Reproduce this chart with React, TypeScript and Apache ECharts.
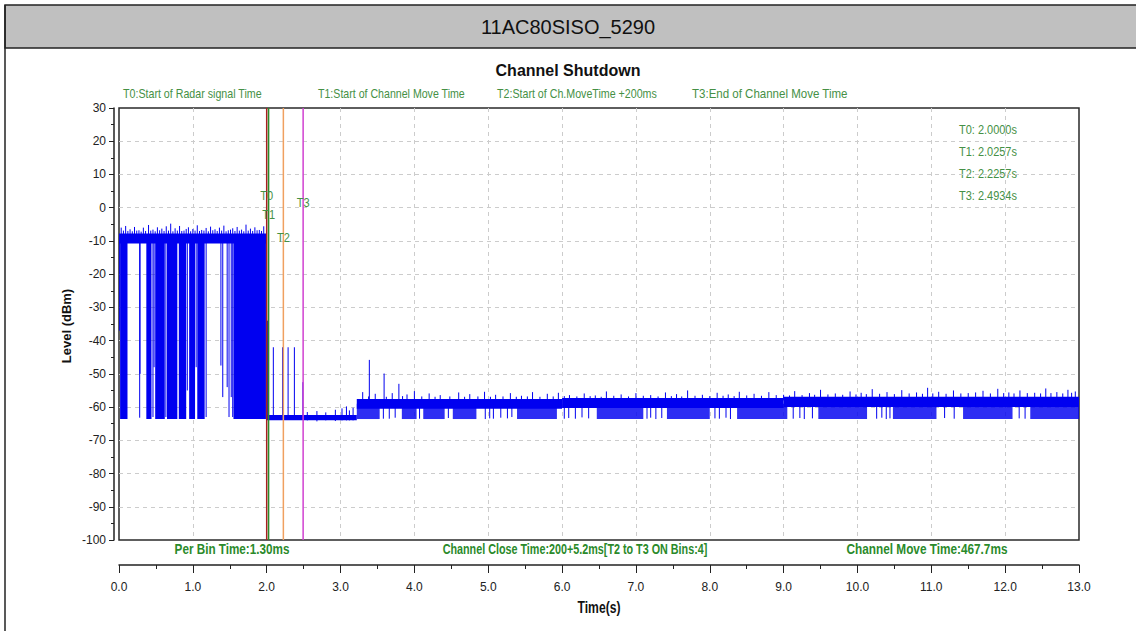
import React, { useEffect, useRef } from "react";
import * as echarts from "echarts";

// ---------- data ----------
const chartTitle = "11AC80SISO_5290";
const plotTitle = "Channel Shutdown";
const xAxisTitle = "Time(s)";
const yAxisTitle = "Level (dBm)";
const legendTexts = [
  "T0:Start of Radar signal Time",
  "T1:Start of Channel Move Time",
  "T2:Start of Ch.MoveTime +200ms",
  "T3:End of Channel Move Time",
];
const markerNames = ["T0", "T1", "T2", "T3"];
const markerTimes = [2.0, 2.0257, 2.2257, 2.4934];
const markerLabelLevels = [3.5, -2.2, -9.1, 1.4];
const markerReadouts = ["T0: 2.0000s", "T1: 2.0257s", "T2: 2.2257s", "T3: 2.4934s"];
const footerTexts = [
  "Per Bin Time:1.30ms",
  "Channel Close Time:200+5.2ms[T2 to T3 ON Bins:4]",
  "Channel Move Time:467.7ms",
];

// [tStart, tEnd, low, high] — continuous trace bands
const coreBands = [
  [0.0, 1.995, -10.8, -7.8],
  [2.0, 3.22, -64.0, -62.4],
  [3.22, 6.0, -60.5, -57.6],
  [6.0, 9.0, -60.3, -57.3],
  [9.0, 13.0, -60.0, -56.9],
];

// [tStart, tEnd, low, high] — radar-period dropouts (solid)
const radarDropouts = [
  [0.015, 0.115, -63.6, -9],
  [0.37, 0.44, -63.6, -9],
  [0.49, 0.62, -63.6, -9],
  [0.65, 0.79, -63.6, -9],
  [0.81, 0.91, -63.6, -9],
  [0.95, 1.03, -63.6, -9],
  [1.06, 1.16, -63.6, -9],
  [1.55, 1.99, -63.6, -9],
];

// [tStart, tEnd, low, high] — dense noise dropouts after channel move
const noiseDropouts = [
  [3.22, 3.53, -63.6, -59],
  [3.83, 4.03, -63.6, -59],
  [4.12, 4.41, -63.6, -59],
  [4.52, 4.84, -63.6, -59],
  [5.39, 5.93, -63.6, -59],
  [6.47, 7.1, -63.6, -59],
  [7.42, 8.0, -63.6, -59],
  [8.37, 9.05, -63.6, -59],
  [9.47, 10.13, -63.6, -59],
  [10.48, 11.07, -63.6, -59],
  [11.43, 12.1, -63.6, -59],
  [12.34, 13.0, -63.6, -59],
];

// [t, low, high] — single-bin excursions
const spikes = [
  // radar period drops
  [0.005, -37, -9], [0.28, -63.2, -9], [0.285, -50, -9], [0.46, -63, -9], [0.475, -48, -9],
  [0.635, -63, -9], [0.925, -55, -9], [1.045, -48, -9], [1.18, -63, -9], [1.38, -47.5, -9],
  [1.405, -57, -9], [1.465, -54, -9], [1.49, -63, -9], [1.52, -57, -9], [1.54, -63, -9],
  // radar period top jitter
  [0.03, -9, -6.0], [0.06, -9, -6.9], [0.09, -9, -5.5], [0.12, -9, -7.0], [0.15, -9, -6.5],
  [0.18, -9, -7.1], [0.21, -9, -5.8], [0.24, -9, -6.9], [0.27, -9, -6.8], [0.3, -9, -7.2],
  [0.33, -9, -6.0], [0.36, -9, -7.0], [0.4, -9, -5.2], [0.43, -9, -6.9], [0.46, -9, -6.6],
  [0.49, -9, -7.1], [0.52, -9, -5.9], [0.55, -9, -6.8], [0.58, -9, -6.3], [0.61, -9, -7.0],
  [0.64, -9, -5.6], [0.67, -9, -6.9], [0.7, -9, -4.8], [0.73, -9, -7.1], [0.76, -9, -6.2],
  [0.79, -9, -6.9], [0.82, -9, -5.5], [0.85, -9, -7.0], [0.88, -9, -6.9], [0.91, -9, -6.4],
  [0.94, -9, -5.9], [0.97, -9, -7.1], [1.0, -9, -6.4], [1.03, -9, -6.9], [1.06, -9, -5.3],
  [1.09, -9, -7.0], [1.12, -9, -6.7], [1.15, -9, -6.9], [1.18, -9, -6.1], [1.21, -9, -7.1],
  [1.24, -9, -5.7], [1.27, -9, -6.8], [1.3, -9, -6.5], [1.33, -9, -7.0], [1.36, -9, -6.0],
  [1.39, -9, -6.9], [1.42, -9, -5.4], [1.45, -9, -7.1], [1.48, -9, -6.8], [1.51, -9, -6.6],
  [1.54, -9, -6.2], [1.57, -9, -7.0], [1.6, -9, -5.8], [1.63, -9, -6.9], [1.66, -9, -6.6],
  [1.69, -9, -7.1], [1.72, -9, -5.1], [1.75, -9, -6.9], [1.78, -9, -6.3], [1.81, -9, -7.0],
  [1.84, -9, -5.9], [1.87, -9, -6.8], [1.9, -9, -6.7], [1.93, -9, -7.0], [1.96, -9, -5.6],
  // after T0
  [2.01, -63, -34], [2.09, -63, -42], [2.215, -63, -42], [2.29, -63, -42], [2.375, -63, -42],
  [2.49, -63, -52.5], [2.55, -64, -61.5], [2.68, -64.3, -61.2], [2.8, -64, -61.6],
  [2.93, -64.2, -60.8], [3.02, -64, -60.4], [3.08, -64, -59.8], [3.12, -64, -61], [3.17, -64, -60.2],
  // upward spikes after the step
  [3.39, -58, -45.8], [3.59, -58, -49.9], [3.79, -58, -53],
  // sparse drops
  [3.58, -63.5, -59], [3.66, -63.5, -59], [3.74, -63.2, -59], [4.07, -63.5, -59], [4.46, -63.3, -59],
  [4.96, -63.6, -59], [5.02, -63.4, -59], [5.07, -63.5, -59], [5.17, -63.2, -59], [5.26, -63.4, -59],
  [5.32, -63, -59], [6.03, -63.5, -59], [6.09, -63.3, -59], [6.18, -63.5, -59], [6.27, -63.1, -59],
  [6.36, -63.4, -59], [7.15, -63.5, -59], [7.2, -63.2, -59], [7.27, -63.6, -59], [7.35, -63.3, -59],
  [8.07, -63.4, -59], [8.13, -63.5, -59], [8.22, -63.2, -59], [8.28, -63.6, -59], [9.13, -63.5, -59],
  [9.22, -63.3, -59], [9.28, -63.6, -59], [9.39, -63.4, -59], [10.26, -63.5, -59], [10.33, -63.2, -59],
  [10.39, -63.6, -59], [10.44, -63.4, -59], [11.18, -63.3, -59], [11.31, -63.5, -59], [12.19, -63.4, -59],
  [12.27, -63.5, -59],
  // top jitter after step
  [3.3, -58, -55.5], [3.38, -58, -56.8], [3.47, -58, -56], [3.62, -58, -56.9], [3.7, -58, -55.8],
  [3.84, -58, -56.7], [3.9, -58, -56.2], [4.0, -58, -55.2], [4.1, -58, -56.8], [4.2, -58, -55.9],
  [4.28, -58, -56.9], [4.35, -58, -56.4], [4.48, -58, -56.8], [4.6, -58, -55.6], [4.68, -58, -56.9],
  [4.75, -58, -56.1], [4.86, -58, -56.8], [4.95, -58, -55.4], [5.03, -58, -56.9], [5.1, -58, -56.3],
  [5.2, -58, -56.8], [5.3, -58, -55.8], [5.38, -58, -56.9], [5.45, -58, -56.6], [5.53, -58, -56.8],
  [5.6, -58, -55.5], [5.7, -58, -56.9], [5.8, -58, -56], [5.88, -58, -56.8], [5.95, -58, -55.7],
  [6.03, -58, -56.7], [6.1, -58, -56.4], [6.2, -58, -56.8], [6.3, -58, -55.9], [6.38, -58, -56.7],
  [6.45, -58, -56.5], [6.53, -58, -56.9], [6.6, -58, -55.3], [6.7, -58, -56.6], [6.8, -58, -56.2],
  [6.9, -58, -56.8], [7.0, -58, -55.8], [7.1, -58, -56.6], [7.2, -58, -56.4], [7.3, -58, -56.8],
  [7.4, -58, -55.6], [7.48, -58, -56.7], [7.55, -58, -56.1], [7.62, -58, -56.8], [7.7, -58, -55.0],
  [7.8, -58, -56.6], [7.9, -58, -56.3], [8.0, -58, -56.7], [8.1, -58, -55.7], [8.18, -58, -56.6],
  [8.25, -58, -56.2], [8.33, -58, -56.7], [8.4, -58, -55.4], [8.5, -58, -56.5], [8.6, -58, -56],
  [8.7, -58, -56.6], [8.8, -58, -55.5], [8.9, -58, -56.4], [9.0, -58, -56.3], [9.08, -58, -56.5],
  [9.15, -58, -55.2], [9.25, -58, -56.4], [9.35, -58, -55.8], [9.42, -58, -56.3], [9.5, -58, -54.8],
  [9.6, -58, -56.2], [9.7, -58, -55.9], [9.8, -58, -56.3], [9.9, -58, -55.3], [9.98, -58, -56.2],
  [10.05, -58, -55.7], [10.12, -58, -56.1], [10.2, -58, -54.6], [10.3, -58, -56.0], [10.4, -58, -55.5],
  [10.5, -58, -56.1], [10.6, -58, -54.9], [10.7, -58, -55.9], [10.8, -58, -55.6], [10.88, -58, -56.0],
  [10.95, -58, -54.2], [11.02, -58, -55.9], [11.1, -58, -55.4], [11.2, -58, -56.0], [11.3, -58, -55.0],
  [11.4, -58, -55.9], [11.5, -58, -55.8], [11.6, -58, -55.6], [11.7, -58, -55.1], [11.8, -58, -55.9],
  [11.9, -58, -54.5], [11.98, -58, -55.8], [12.05, -58, -55.6], [12.12, -58, -55.9], [12.2, -58, -55.0],
  [12.3, -58, -55.8], [12.4, -58, -55.7], [12.48, -58, -55.9], [12.55, -58, -54.4], [12.62, -58, -55.8],
  [12.7, -58, -55.5], [12.78, -58, -55.9], [12.85, -58, -54.8], [12.9, -58, -55.7], [12.95, -58, -55.3],
];

// ---------- styles / layout ----------
const SANS = "Liberation Sans";
const TRACE = "#0000f0";
const GREEN = "#459045";
const DARKGREEN = "#2a8a2a";
const markerColors = ["#a82020", "#2a8a2a", "#f0a060", "#d040d0"];

const legendX = [123, 318, 497, 692];
const legendW = [139, 147, 160, 156];
const footerX = [232, 575, 927];
const footerW = [115, 265, 161];

let measureCtx: CanvasRenderingContext2D | null = null;
function textWidth(text: string, size: number, weight: string) {
  if (!measureCtx) measureCtx = document.createElement("canvas").getContext("2d");
  if (!measureCtx) return 1;
  measureCtx.font = `${weight} ${size}px '${SANS}'`;
  return measureCtx.measureText(text).width || 1;
}
function fitText(text: string, x: number, y: number, size: number, weight: string, fill: string, align: string, target: number) {
  return {
    type: "text",
    x,
    y,
    scaleX: target / textWidth(text, size, weight),
    style: { text, fill, fontSize: size, fontWeight: weight, fontFamily: SANS, textAlign: align, textVerticalAlign: "middle" },
  };
}

function bandSeries(data: number[][], opacity: number) {
  return {
    type: "custom",
    silent: true,
    clip: true,
    data,
    encode: { x: [0, 1], y: [2, 3] },
    renderItem: (params: any, api: any) => {
      const p1 = api.coord([api.value(0), api.value(3)]);
      const p2 = api.coord([api.value(1), api.value(2)]);
      return {
        type: "rect",
        shape: { x: p1[0], y: p1[1], width: Math.max(p2[0] - p1[0], 1), height: p2[1] - p1[1] },
        style: { fill: TRACE, opacity },
      };
    },
  };
}

export default function App() {
  const ref = useRef<HTMLDivElement>(null);
  useEffect(() => {
    if (!ref.current) return;
    const chart = echarts.init(ref.current, undefined, { renderer: "svg" });
    const graphic: any[] = [
      {
        type: "rect",
        shape: { x: 5, y: 5, width: 1140, height: 43 },
        style: { fill: "#c0c0c0", stroke: "#222", lineWidth: 1.5 },
      },
      { type: "line", shape: { x1: 5, y1: 5, x2: 5, y2: 640 }, style: { stroke: "#222", lineWidth: 1.5 } },
      {
        type: "text", x: 568, y: 27,
        style: { text: chartTitle, fill: "#111", fontSize: 20, fontFamily: SANS, textAlign: "center", textVerticalAlign: "middle" },
      },
      fitText(plotTitle, 568, 70, 17, "bold", "#111", "center", 145),
      fitText(xAxisTitle, 599, 607, 17, "bold", "#111", "center", 43),
      {
        type: "text", x: 66, y: 326, rotation: Math.PI / 2,
        style: { text: yAxisTitle, fill: "#111", fontSize: 13, fontWeight: "bold", fontFamily: SANS, textAlign: "center", textVerticalAlign: "middle" },
      },
    ];
    legendTexts.forEach((t, i) => graphic.push(fitText(t, legendX[i], 94, 13, "normal", GREEN, "left", legendW[i])));
    markerReadouts.forEach((t, i) => graphic.push(fitText(t, 959, 130 + i * 22, 13, "normal", GREEN, "left", 58)));
    footerTexts.forEach((t, i) => graphic.push(fitText(t, footerX[i], 549, 15, "bold", DARKGREEN, "center", footerW[i])));

    const axisCommon = {
      axisLine: { show: true, onZero: false, lineStyle: { color: "#222", width: 1.5 } },
      axisTick: { show: true, inside: false, lineStyle: { color: "#222" } },
      splitLine: { show: true, showMinLine: false, showMaxLine: false, lineStyle: { color: "#cccccc", type: [4, 4] } },
    };

    const option: any = {
      animation: false,
      backgroundColor: "#fff",
      grid: {
        left: 119, right: 57, top: 108, bottom: 91,
        show: true, borderColor: "#2a2a2a", borderWidth: 1.5, backgroundColor: "#fff",
      },
      xAxis: {
        ...axisCommon,
        type: "value", min: 0, max: 13, interval: 1, position: "bottom", offset: 25,
        axisTick: { ...axisCommon.axisTick, length: 8 },
        minorTick: { show: true, splitNumber: 2, length: 4, lineStyle: { color: "#222" } },
        axisLabel: { formatter: (v: number) => v.toFixed(1), margin: 16, color: "#222", fontSize: 12, fontFamily: SANS },
      },
      yAxis: {
        ...axisCommon,
        type: "value", min: -100, max: 30, interval: 10, position: "left", offset: 5,
        axisTick: { ...axisCommon.axisTick, length: 5 },
        minorTick: { show: true, splitNumber: 2, length: 3, lineStyle: { color: "#222" } },
        axisLabel: { margin: 8, color: "#222", fontSize: 12, fontFamily: SANS },
      },
      graphic,
      series: [
        bandSeries(noiseDropouts, 0.82),
        bandSeries(radarDropouts, 1),
        bandSeries(coreBands, 1),
        {
          type: "custom",
          silent: true,
          clip: true,
          data: spikes,
          encode: { x: 0, y: [1, 2] },
          renderItem: (params: any, api: any) => {
            const p1 = api.coord([api.value(0), api.value(1)]);
            const p2 = api.coord([api.value(0), api.value(2)]);
            return {
              type: "line",
              shape: { x1: p1[0], y1: p1[1], x2: p2[0], y2: p2[1] },
              style: { stroke: TRACE, lineWidth: 1 },
            };
          },
        },
        {
          type: "custom",
          silent: true,
          data: markerTimes.map((t) => [t]),
          encode: { x: 0 },
          renderItem: (params: any, api: any) => {
            const top = api.coord([api.value(0), 30]);
            const bot = api.coord([api.value(0), -100]);
            return {
              type: "line",
              shape: { x1: top[0], y1: top[1], x2: bot[0], y2: bot[1] },
              style: { stroke: markerColors[params.dataIndex], lineWidth: 1.5 },
            };
          },
        },
        {
          type: "custom",
          silent: true,
          data: markerNames.map((n, i) => [markerTimes[i], markerLabelLevels[i]]),
          encode: { x: 0, y: 1 },
          renderItem: (params: any, api: any) => {
            const p = api.coord([api.value(0), api.value(1)]);
            return {
              type: "text",
              x: p[0],
              y: p[1],
              scaleX: 0.85,
              style: {
                text: markerNames[params.dataIndex],
                fill: GREEN, fontSize: 13, fontFamily: SANS,
                textAlign: "center", textVerticalAlign: "middle",
              },
            };
          },
        },
      ],
    };
    chart.setOption(option);
    return () => chart.dispose();
  }, []);
  return (
    <div
      ref={ref}
      style={{ position: "absolute", left: 0, top: 0, width: 1136, height: 631, background: "#fff" }}
    />
  );
}
